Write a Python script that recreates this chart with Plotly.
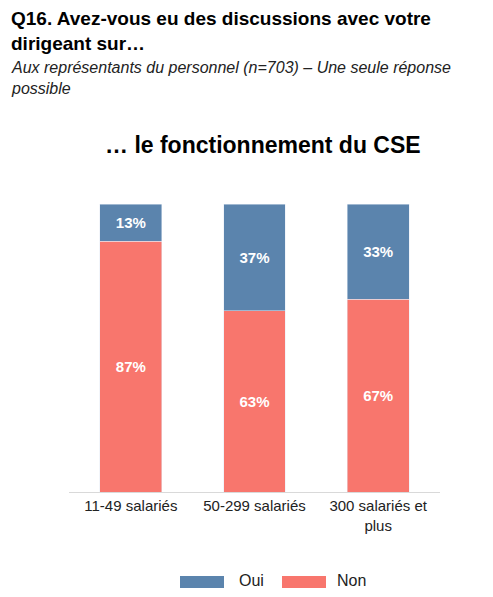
import plotly.graph_objects as go

categories = ["11-49 salariés", "50-299 salariés", "300 salariés et<br>plus"]
non_values = [87, 63, 67]
oui_values = [13, 37, 33]
series_names = ["Oui", "Non"]

BLUE = "#5B84AD"
RED = "#F8766D"

OFF = 8  # page body margin
W, H = 493 - 2 * OFF, 597 - 2 * OFF
# plot area in reference pixel coordinates
L, R, T, B = 69, 440, 204, 492

def px(x):
    return (x - L) / (R - L)

def py(y):
    return (B - y) / (B - T)

fig = go.Figure()
fig.add_trace(go.Bar(
    x=categories, y=non_values, name=series_names[1], marker_color=RED,
    text=[f"{v}%" for v in non_values], textposition="inside", insidetextanchor="middle",
    textfont=dict(color="white", size=15, family="Liberation Sans", weight="bold"),
    showlegend=False,
))
fig.add_trace(go.Bar(
    x=categories, y=oui_values, name=series_names[0], marker_color=BLUE,
    text=[f"{v}%" for v in oui_values], textposition="inside", insidetextanchor="middle",
    textfont=dict(color="white", size=15, family="Liberation Sans", weight="bold"),
    showlegend=False,
))

fig.update_layout(
    width=W, height=H,
    barmode="stack", bargap=0.5,
    margin=dict(l=L - OFF, r=(493 - OFF) - R, t=T - OFF, b=(597 - OFF) - B, pad=0),
    plot_bgcolor="white", paper_bgcolor="white",
    font=dict(family="Liberation Sans", color="#222222"),
    uniformtext=dict(mode="show", minsize=15),
    xaxis=dict(showline=True, linecolor="#D9D9D9", linewidth=1, ticks="",
               tickfont=dict(size=15, color="#222222"), showgrid=False),
    yaxis=dict(range=[0, 100], visible=False, showgrid=False),
    showlegend=False,
)

annotations = [
    dict(text="<b>Q16. Avez-vous eu des discussions avec votre<br>dirigeant sur…</b>",
         x=px(9), y=py(6), xanchor="left", yanchor="top", align="left",
         font=dict(size=19, color="#000000")),
    dict(text="<i>Aux représentants du personnel (n=703) – Une seule réponse<br>possible</i>",
         x=px(9), y=py(57), xanchor="left", yanchor="top", align="left",
         font=dict(size=16, color="#222222")),
    dict(text="<b>… le fonctionnement du CSE</b>",
         x=px(263), y=py(145), xanchor="center", yanchor="middle",
         font=dict(size=23, color="#000000")),
    dict(text="Oui", x=px(237), y=py(580), xanchor="left", yanchor="middle",
         height=16, valign="middle",
         font=dict(size=16, color="#222222")),
    dict(text="Non", x=px(335), y=py(580), xanchor="left", yanchor="middle",
         height=16, valign="middle",
         font=dict(size=16, color="#222222")),
]
for a in annotations:
    a.update(xref="paper", yref="paper", showarrow=False)
fig.update_layout(annotations=annotations)

shapes = [
    dict(type="rect", x0=px(180), x1=px(224), y0=py(576), y1=py(588), fillcolor=BLUE, line_width=0),
    dict(type="rect", x0=px(282), x1=px(326), y0=py(576), y1=py(588), fillcolor=RED, line_width=0),
]
for s in shapes:
    s.update(xref="paper", yref="paper")
fig.update_layout(shapes=shapes)

fig.write_html("out.html")
